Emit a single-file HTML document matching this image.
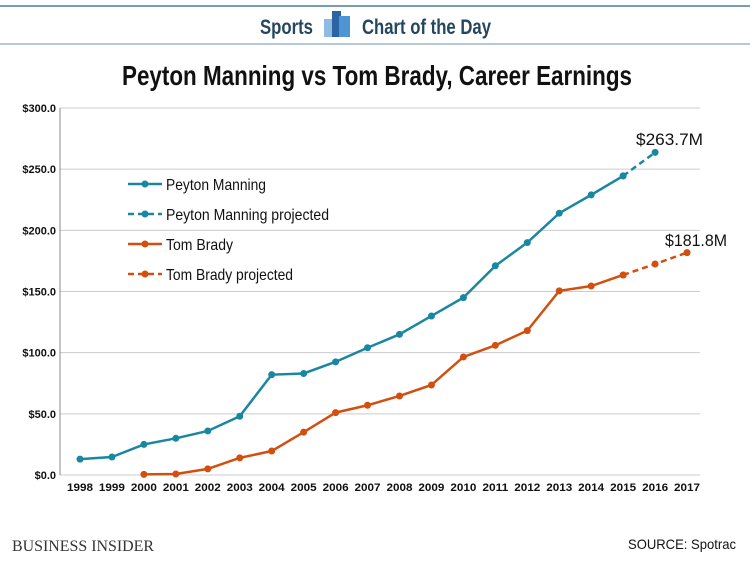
<!DOCTYPE html>
<html><head><meta charset="utf-8"><style>
body{margin:0;background:#fff;width:750px;height:563px;overflow:hidden}
svg{display:block;font-family:"Liberation Sans",sans-serif}
</style></head><body>
<svg id="chart" width="750" height="563">
<line x1="0" y1="6" x2="750" y2="6" stroke="#7a9bb3" stroke-width="2"/>
<line x1="0" y1="44" x2="750" y2="44" stroke="#9fb6c8" stroke-width="1.5"/>
<text x="260" y="34" textLength="53" lengthAdjust="spacingAndGlyphs" font-size="21" font-weight="bold" fill="#24475e">Sports</text>
<g>
<rect x="324" y="19" width="11" height="18" fill="#8dbbe3"/><rect x="332" y="11" width="9" height="26" fill="#2a64a3"/><rect x="339" y="16" width="11" height="21" fill="#4f95d6"/></g>
<text x="362" y="34" textLength="129" lengthAdjust="spacingAndGlyphs" font-size="21" font-weight="bold" fill="#24475e">Chart of the Day</text>
<text x="122" y="85" textLength="510" lengthAdjust="spacingAndGlyphs" font-size="28" font-weight="bold" fill="#111">Peyton Manning vs Tom Brady, Career Earnings</text>
<g id="grid"></g><g id="axes"></g><g id="series"></g>
<g>
<line x1="128" y1="184" x2="162" y2="184" stroke="#1a87a0" stroke-width="2.5"/><circle cx="145" cy="184" r="3.5" fill="#1a87a0"/>
<text x="166" y="190" textLength="100" lengthAdjust="spacingAndGlyphs" font-size="16" fill="#111">Peyton Manning</text>
<line x1="128" y1="214" x2="162" y2="214" stroke="#1a87a0" stroke-width="2.5" stroke-dasharray="6,4"/><circle cx="145" cy="214" r="3.5" fill="#1a87a0"/>
<text x="166" y="220" textLength="163" lengthAdjust="spacingAndGlyphs" font-size="16" fill="#111">Peyton Manning projected</text>
<line x1="128" y1="244" x2="162" y2="244" stroke="#d2500f" stroke-width="2.5"/><circle cx="145" cy="244" r="3.5" fill="#d2500f"/>
<text x="166" y="250" textLength="67" lengthAdjust="spacingAndGlyphs" font-size="16" fill="#111">Tom Brady</text>
<line x1="128" y1="274" x2="162" y2="274" stroke="#d2500f" stroke-width="2.5" stroke-dasharray="6,4"/><circle cx="145" cy="274" r="3.5" fill="#d2500f"/>
<text x="166" y="280" textLength="127" lengthAdjust="spacingAndGlyphs" font-size="16" fill="#111">Tom Brady projected</text>
</g>
<text x="636" y="145" textLength="67" lengthAdjust="spacingAndGlyphs" font-size="17" fill="#111">$263.7M</text>
<text x="665" y="246" textLength="62" lengthAdjust="spacingAndGlyphs" font-size="17" fill="#111">$181.8M</text>
<text x="12" y="551" textLength="142" lengthAdjust="spacingAndGlyphs" font-size="16" font-family="Liberation Serif,serif" fill="#333">BUSINESS INSIDER</text>
<text x="628" y="549" textLength="108" lengthAdjust="spacingAndGlyphs" font-size="14" fill="#111">SOURCE: Spotrac</text>
</svg>
<script>
const years=[1998,1999,2000,2001,2002,2003,2004,2005,2006,2007,2008,2009,2010,2011,2012,2013,2014,2015,2016,2017];
const peyton=[13,14.7,25,30,36,48,82,83,92.5,104,115,130,145,171,190,214,229,244.5,null,null];
const peytonProj=[null,null,null,null,null,null,null,null,null,null,null,null,null,null,null,null,null,244.5,263.7,null];
const brady=[null,null,0.5,0.8,5,14,19.6,35,51,57,64.6,73.6,96.5,106,118,150.5,154.5,163.5,null,null];
const bradyProj=[null,null,null,null,null,null,null,null,null,null,null,null,null,null,null,null,null,163.5,172.5,181.8];
const yTicks=[0,50,100,150,200,250,300];
const yLabels=["$0.0","$50.0","$100.0","$150.0","$200.0","$250.0","$300.0"];
const NS="http://www.w3.org/2000/svg";
const x=i=>80+i*31.95, y=v=>475-v*(367/300);
function mk(t,a,p){const e=document.createElementNS(NS,t);for(const k in a)e.setAttribute(k,a[k]);p.appendChild(e);return e;}
const g=document.getElementById('grid'),ax=document.getElementById('axes'),s=document.getElementById('series');
yTicks.forEach((v,i)=>{
 const l=mk('line',{x1:60,x2:700,y1:y(v),y2:y(v),stroke:'#ccc','stroke-width':1},g);
 
 
 const t=mk('text',{x:56,y:y(v)+4,'text-anchor':'end','font-size':11,'font-weight':'bold',fill:'#111'},ax);
 t.textContent=yLabels[i];
 
 
});
const al=mk('line',{x1:60,x2:60,y1:y(300),y2:y(0),stroke:'#888'},ax);


years.forEach((yr,i)=>{
 const t=mk('text',{x:x(i),y:491,'text-anchor':'middle','font-size':11,'font-weight':'bold',fill:'#111',textLength:26,lengthAdjust:'spacingAndGlyphs'},ax);
 t.textContent=yr;
 
 
});
function draw(arr,color,dash,name){
 const pts=[];arr.forEach((v,i)=>{if(v!==null)pts.push([x(i),y(v)]);});
 const pl=mk('polyline',{points:pts.map(p=>p.join(',')).join(' '),fill:'none',stroke:color,'stroke-width':2.5,'stroke-dasharray':dash},s);
 
 
 pts.forEach(p=>{const c=mk('circle',{cx:p[0],cy:p[1],r:3.5,fill:color},s);
  
  });
}
draw(peyton,'#1a87a0','none','peyton');
draw(peytonProj,'#1a87a0','6,4','peyton-projected');
draw(brady,'#d2500f','none','brady');
draw(bradyProj,'#d2500f','6,4','brady-projected');
</script>
</body></html>
